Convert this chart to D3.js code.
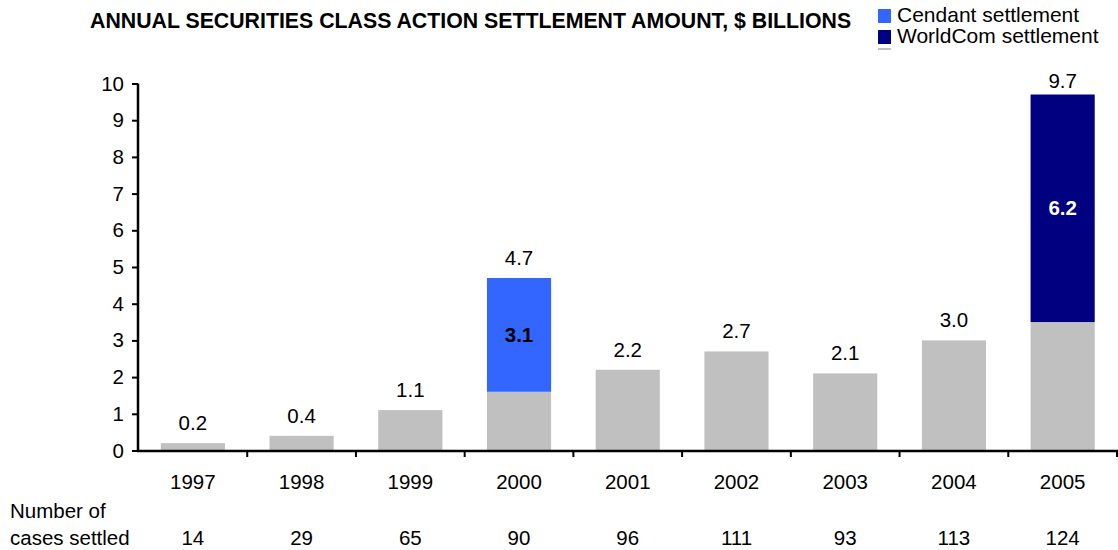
<!DOCTYPE html>
<html><head><meta charset="utf-8">
<script src="https://cdn.jsdelivr.net/npm/d3@7"></script>
<style>body{margin:0;background:#fff;font-family:Arial,"Liberation Sans",sans-serif;}</style>
</head><body><svg id="c" width="1118" height="550"></svg>
<script>
const years = ["1997","1998","1999","2000","2001","2002","2003","2004","2005"];
const baseValues = [0.2,0.4,1.1,1.6,2.2,2.7,2.1,3.0,3.5];
const cendantValues = [0,0,0,3.1,0,0,0,0,0];
const worldcomValues = [0,0,0,0,0,0,0,0,6.2];
const totalLabels = ["0.2","0.4","1.1","4.7","2.2","2.7","2.1","3.0","9.7"];
const casesSettled = [14,29,65,90,96,111,93,113,124];
const yTicks = [0,1,2,3,4,5,6,7,8,9,10];

const svg = d3.select("#c");
const F = "Arial, 'Liberation Sans', sans-serif";
const FS = 20.5;
const x = d3.scaleBand().domain(years).range([138.5,1117]).paddingInner(0.41).paddingOuter(0.205);
const y = d3.scaleLinear().domain([0,10]).range([450.5,83.5]);

const rows = years.map((yr,i)=>({yr, base:baseValues[i], c:cendantValues[i], w:worldcomValues[i], lab:totalLabels[i], n:casesSettled[i]}));
const cx = d => x(d.yr)+x.bandwidth()/2;

// bars
svg.selectAll(".b").data(rows).join("rect")
 .attr("x",d=>x(d.yr)).attr("width",x.bandwidth())
 .attr("y",d=>y(d.base)).attr("height",d=>y(0)-y(d.base)).attr("fill","#c0c0c0");
svg.selectAll(".c").data(rows.filter(d=>d.c>0)).join("rect")
 .attr("x",d=>x(d.yr)).attr("width",x.bandwidth())
 .attr("y",d=>y(d.base+d.c)).attr("height",d=>y(d.base)-y(d.base+d.c)).attr("fill","#3366ff");
svg.selectAll(".w").data(rows.filter(d=>d.w>0)).join("rect")
 .attr("x",d=>x(d.yr)).attr("width",x.bandwidth())
 .attr("y",d=>y(d.base+d.w)).attr("height",d=>y(d.base)-y(d.base+d.w)).attr("fill","#000080");

// segment labels
svg.selectAll(".cl").data(rows.filter(d=>d.c>0)).join("text")
 .attr("x",cx).attr("y",d=>y(d.base+d.c/2)+7)
 .attr("text-anchor","middle").attr("font-family",F).attr("font-size",FS).attr("font-weight","bold").attr("fill","#000")
 .text(d=>d.c.toFixed(1));
svg.selectAll(".wl").data(rows.filter(d=>d.w>0)).join("text")
 .attr("x",cx).attr("y",d=>y(d.base+d.w/2)+7)
 .attr("text-anchor","middle").attr("font-family",F).attr("font-size",FS).attr("font-weight","bold").attr("fill","#fff")
 .text(d=>d.w.toFixed(1));

// total labels
svg.selectAll(".tl").data(rows).join("text")
 .attr("x",cx).attr("y",d=>Math.max(y(d.base+d.c+d.w)-13, 88))
 .attr("text-anchor","middle").attr("font-family",F).attr("font-size",FS).attr("fill","#000")
 .text(d=>d.lab);

// y axis
const ya = svg.append("g").attr("transform","translate(138,0)")
 .call(d3.axisLeft(y).tickValues(yTicks).tickSize(6).tickPadding(8).tickFormat(d3.format("d")));
ya.select(".domain").attr("stroke","#000").attr("stroke-width",2.5).attr("d","M0,"+y(10)+"V"+(y(0)+1));
ya.selectAll(".tick line").attr("stroke","#000").attr("stroke-width",2);
ya.selectAll("text").attr("font-family",F).attr("font-size",FS).attr("fill","#000");

// x axis
const xa = svg.append("g").attr("transform","translate(0,451)");
xa.append("line").attr("x1",137).attr("x2",1118).attr("stroke","#000").attr("stroke-width",2.5);
const step = x.step();
const bounds = years.map(yr=>x(yr)+x.bandwidth()/2+step/2);
xa.selectAll(".xt").data(bounds).join("line")
 .attr("x1",d=>d).attr("x2",d=>d).attr("y1",0).attr("y2",6).attr("stroke","#000").attr("stroke-width",2);
svg.selectAll(".yl").data(rows).join("text")
 .attr("x",cx).attr("y",489)
 .attr("text-anchor","middle").attr("font-family",F).attr("font-size",FS).attr("fill","#000").text(d=>d.yr);

// cases settled
svg.append("text").attr("x",10).attr("y",518).attr("font-family",F).attr("font-size",FS).text("Number of");
svg.append("text").attr("x",10).attr("y",545).attr("font-family",F).attr("font-size",FS).text("cases settled");
svg.selectAll(".n").data(rows).join("text")
 .attr("x",cx).attr("y",545)
 .attr("text-anchor","middle").attr("font-family",F).attr("font-size",FS).attr("fill","#000").text(d=>d.n);

// title
svg.append("text").attr("x",90).attr("y",28)
 .attr("font-family",F).attr("font-size",21.3).attr("font-weight","bold").text("ANNUAL SECURITIES CLASS ACTION SETTLEMENT AMOUNT, $ BILLIONS");

// legend
const legend = [{c:"#3366ff",t:"Cendant settlement",y:8},{c:"#000080",t:"WorldCom settlement",y:29}];
legend.forEach(l=>{
  svg.append("rect").attr("x",878).attr("y",l.y+1).attr("width",13).attr("height",14).attr("fill",l.c);
  svg.append("text").attr("x",897).attr("y",l.y+14).attr("font-family",F).attr("font-size",21).text(l.t);
});
svg.append("rect").attr("x",878).attr("y",48).attr("width",13).attr("height",2).attr("fill","#c0c0c0");
</script></body></html>
